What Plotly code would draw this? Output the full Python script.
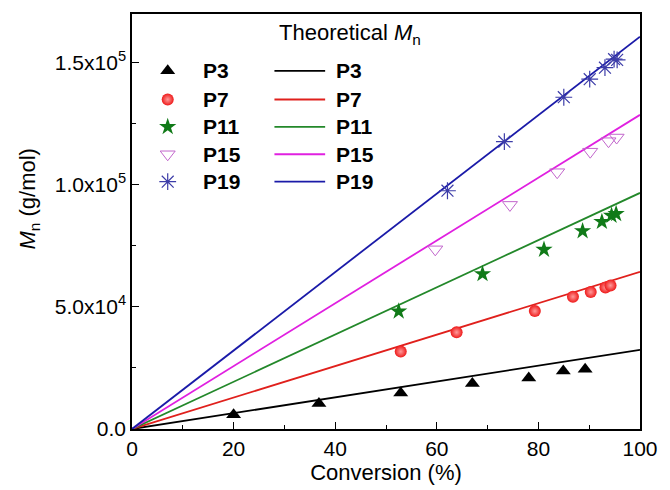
import plotly.graph_objects as go

# ---------------- data ----------------
names = ["P3", "P7", "P11", "P15", "P19"]

p3_x = [20.0, 36.8, 52.9, 67.0, 78.1, 84.9, 89.2]
p3_y = [5800, 10400, 14700, 18600, 20900, 23800, 24500]

p7_x = [52.9, 63.9, 79.3, 86.8, 90.3, 93.2, 94.2]
p7_y = [31700, 39600, 48300, 54200, 56100, 58000, 58800]

p11_x = [52.5, 69.0, 81.1, 88.7, 92.5, 94.4, 95.3]
p11_y = [48200, 63500, 73500, 81100, 84900, 87400, 88100]

p15_x = [59.7, 74.4, 83.7, 90.2, 93.8, 95.4]
p15_y = [73600, 91800, 105200, 113600, 117900, 119400]

p19_x = [62.1, 73.3, 85.0, 90.1, 93.1, 94.9, 95.5]
p19_y = [97600, 117700, 135900, 143300, 148000, 151500, 151200]

theory_x = [0, 100]
theory_end = [32400, 64400, 96700, 128700, 160700]

x_ticks = [0, 20, 40, 60, 80, 100]
y_tickvals = [0, 50000, 100000, 150000]
y_ticktext = ["0.0", "5.0x10<sup>4</sup>", "1.0x10<sup>5</sup>", "1.5x10<sup>5</sup>"]

# ---------------- styles ----------------
FONT = "Liberation Sans, Arial, sans-serif"
line_colors = ["#000000", "#e0201c", "#23882a", "#e020e0", "#1a1aa8"]
marker_styles = [
    dict(symbol="triangle-up", size=13, color="#000000"),
    dict(symbol="circle", size=12, color="#ee1a1a",
         gradient=dict(type="radial", color="#ff9a9a")),
    dict(symbol="star", size=13, color="#107a18"),
    dict(symbol="triangle-down-open", size=13, color="#c266cc", line=dict(width=1)),
    dict(symbol="asterisk-open", size=14, color="#3c3ca8", line=dict(width=1.2)),
]
series = [(p3_x, p3_y), (p7_x, p7_y), (p11_x, p11_y), (p15_x, p15_y), (p19_x, p19_y)]

fig = go.Figure()

for i, name in enumerate(names):
    fig.add_trace(go.Scatter(
        x=theory_x, y=[0, theory_end[i]], mode="lines",
        line=dict(color=line_colors[i], width=1.8), showlegend=False, hoverinfo="skip"))

for i, name in enumerate(names):
    sx, sy = series[i]
    fig.add_trace(go.Scatter(
        x=sx, y=sy, mode="markers", marker=marker_styles[i],
        showlegend=False, name=name))

# ---------- custom legend (overlay axis in 0..1 plot fractions) ----------
leg_rows = [0.863, 0.794, 0.728, 0.662, 0.596]
mk_x = 0.0703
for i, name in enumerate(names):
    fig.add_trace(go.Scatter(
        x=[mk_x], y=[leg_rows[i]], mode="markers", marker=marker_styles[i],
        xaxis="x2", yaxis="y2", showlegend=False, hoverinfo="skip"))
    fig.add_annotation(x=0.1351, y=leg_rows[i], xref="paper", yref="paper",
                       text="<b>%s</b>" % name, showarrow=False, xanchor="left",
                       yanchor="middle", font=dict(family=FONT, size=21, color="black"))
    fig.add_shape(type="line", xref="paper", yref="paper",
                  x0=0.2804, x1=0.3802, y0=leg_rows[i], y1=leg_rows[i],
                  line=dict(color=line_colors[i], width=1.8))
    fig.add_annotation(x=0.3967, y=leg_rows[i], xref="paper", yref="paper",
                       text="<b>%s</b>" % name, showarrow=False, xanchor="left",
                       yanchor="middle", font=dict(family=FONT, size=21, color="black"))

fig.add_annotation(x=0.2849, y=0.953, xref="paper", yref="paper",
                   text="Theoretical <i>M</i><sub>n</sub>", showarrow=False,
                   xanchor="left", yanchor="middle",
                   font=dict(family=FONT, size=22, color="black"))

# y-axis title
fig.add_annotation(x=-0.203, y=0.555, xref="paper", yref="paper",
                   text="<i>M</i><sub>n</sub> (g/mol)", showarrow=False, textangle=-90,
                   xanchor="center", yanchor="middle",
                   font=dict(family=FONT, size=22, color="black"))

axis_common = dict(showline=True, linecolor="black", linewidth=1.5, mirror=True,
                   ticks="inside", ticklen=7, tickwidth=1.3, tickcolor="black",
                   showgrid=False, zeroline=False,
                   tickfont=dict(family=FONT, size=21, color="black"))

fig.update_layout(
    width=670, height=490,
    margin=dict(l=132, r=22, t=14, b=61),
    paper_bgcolor="white", plot_bgcolor="white",
    showlegend=False,
    xaxis=dict(range=[0, 100], tickvals=x_ticks,
               minor=dict(ticks="inside", ticklen=4, tickwidth=1.1, tickcolor="black", dtick=10),
               title=dict(text="Conversion (%)", font=dict(family=FONT, size=22, color="black"),
                          standoff=2),
               **axis_common),
    yaxis=dict(range=[0, 170000], tickvals=y_tickvals, ticktext=y_ticktext,
               minor=dict(ticks="inside", ticklen=4, tickwidth=1.1, tickcolor="black",
                          tickvals=[25000, 75000, 125000]),
               **axis_common),
    xaxis2=dict(range=[0, 1], overlaying="x", visible=False),
    yaxis2=dict(range=[0, 1], overlaying="y", visible=False),
)

fig.write_html("out.html")
